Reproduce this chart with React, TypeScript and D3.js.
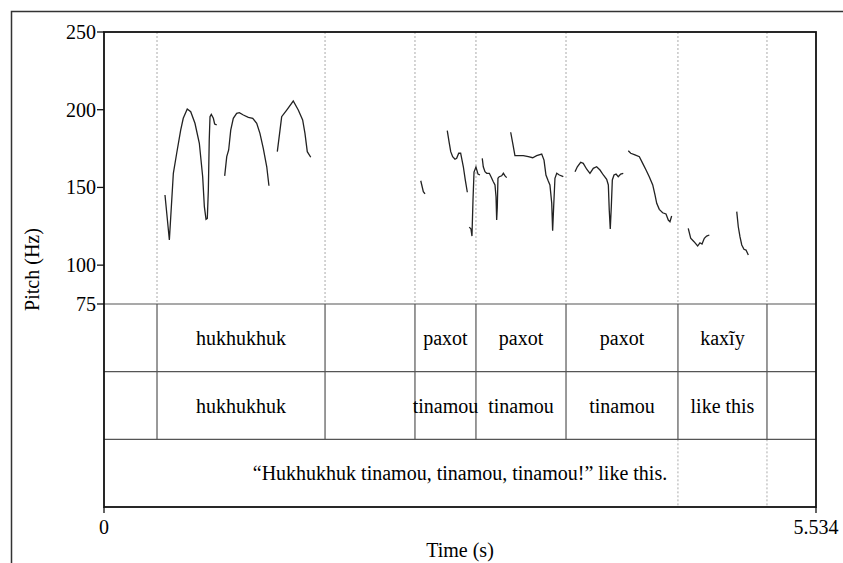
import * as d3 from 'd3';
import React from 'react';

// pitch contour pieces, [time (s), F0 (Hz)]
const huk1: [number, number][] = [
  [0.474, 145.1], [0.508, 116.2], [0.539, 159.1], [0.565, 172.0], [0.596, 186.9], [0.616, 194.5],
  [0.647, 200.5], [0.674, 198.7], [0.707, 191.3], [0.741, 178.4], [0.767, 156.9], [0.780, 137.6],
  [0.793, 129.5], [0.803, 130.1], [0.811, 148.3], [0.818, 180.5], [0.824, 195.5], [0.834, 197.0],
  [0.850, 194.5], [0.860, 190.8], [0.876, 190.2],
];
const huk2: [number, number][] = [
  [0.938, 157.4], [0.954, 169.8], [0.969, 174.1], [0.985, 186.9], [1.005, 194.5], [1.031, 197.7],
  [1.052, 198.1], [1.083, 196.6], [1.122, 195.1], [1.156, 194.5], [1.187, 191.3], [1.212, 184.8],
  [1.238, 175.2], [1.265, 163.3], [1.282, 151.1],
];
const huk3: [number, number][] = [
  [1.347, 173.0], [1.368, 186.9], [1.381, 195.5], [1.420, 199.8], [1.471, 205.6], [1.510, 199.8],
  [1.544, 193.4], [1.562, 184.8], [1.580, 173.0], [1.607, 169.4],
];
const pax0: [number, number][] = [[2.462, 154.3], [2.482, 147.3], [2.495, 145.8]];
const pax1: [number, number][] = [
  [2.668, 186.5], [2.684, 178.4], [2.695, 173.0], [2.710, 169.8], [2.728, 168.1], [2.741, 168.7],
  [2.757, 172.0], [2.772, 172.0], [2.793, 163.3], [2.808, 154.8], [2.824, 146.9],
];
const pax2: [number, number][] = [
  [2.839, 124.5], [2.852, 123.3], [2.860, 118.7], [2.868, 141.9], [2.876, 159.9], [2.891, 163.1],
  [2.907, 158.6], [2.922, 158.0],
];
const pax3: [number, number][] = [
  [2.940, 168.7], [2.948, 163.3], [2.961, 160.1], [2.975, 159.1], [2.995, 159.1], [3.008, 156.9],
  [3.026, 153.7], [3.039, 151.6], [3.047, 144.0], [3.052, 129.0], [3.057, 137.6], [3.062, 155.9],
  [3.072, 156.9], [3.091, 157.5], [3.104, 159.1], [3.117, 157.4], [3.130, 156.3],
];
const pax4: [number, number][] = [
  [3.161, 185.5], [3.177, 178.4], [3.194, 170.4], [3.220, 170.4], [3.259, 170.4], [3.298, 169.8],
  [3.332, 169.1], [3.363, 170.4], [3.402, 171.5], [3.420, 167.6], [3.435, 158.0], [3.453, 154.1],
  [3.466, 151.6], [3.480, 139.8], [3.487, 122.2], [3.495, 137.6], [3.505, 155.9], [3.519, 159.1],
  [3.539, 158.0], [3.570, 156.9],
];
const pax5: [number, number][] = [
  [3.661, 160.1], [3.679, 163.3], [3.705, 166.2], [3.725, 165.5], [3.752, 161.7], [3.777, 159.1],
  [3.803, 162.3], [3.829, 163.3], [3.855, 161.2], [3.881, 158.0], [3.907, 155.2], [3.920, 151.6],
  [3.927, 135.5], [3.935, 123.3], [3.943, 137.6], [3.951, 154.8], [3.964, 158.0], [3.980, 158.6],
  [3.997, 156.9], [4.016, 158.6], [4.036, 159.1],
];
const pax6: [number, number][] = [
  [4.075, 173.6], [4.094, 172.0], [4.127, 170.9], [4.161, 169.8], [4.187, 165.5], [4.213, 161.2],
  [4.238, 156.9], [4.265, 151.6], [4.283, 145.1], [4.296, 139.8], [4.316, 135.9], [4.342, 133.7],
  [4.368, 132.9], [4.386, 129.0], [4.399, 127.9], [4.412, 131.6],
];
const kax1: [number, number][] = [
  [4.541, 123.7], [4.560, 117.3], [4.586, 115.1], [4.614, 112.3], [4.632, 114.4], [4.648, 113.6],
  [4.666, 117.3], [4.684, 118.7], [4.705, 119.4],
];
const kax2: [number, number][] = [
  [4.918, 134.4], [4.930, 124.7], [4.943, 118.3], [4.957, 113.0], [4.974, 110.2], [4.990, 109.7],
  [5.008, 106.5],
];
const pitchPieces = [huk1, huk2, huk3, pax0, pax1, pax2, pax3, pax4, pax5, pax6, kax1, kax2];

const duration = 5.534;
const pitchTicks = [250, 200, 150, 100, 75];
const boundaries = [0.412, 1.718, 2.417, 2.891, 3.591, 4.461, 5.153];
const wordLabels = ['', 'hukhukhuk', '', 'paxot', 'paxot', 'paxot', 'kax\u0129y', ''];
const glossLabels = ['', 'hukhukhuk', '', 'tinamou', 'tinamou', 'tinamou', 'like this', ''];
const sentence = '\u201CHukhukhuk tinamou, tinamou, tinamou!\u201D like this.';
const sentenceDotted = [4.461, 5.153];

export default function App() {
  const left = 104, right = 816, top = 32, pitchBottom = 304, bottom = 507;
  const tierH = (bottom - pitchBottom) / 3;
  const x = d3.scaleLinear().domain([0, duration]).range([left, right]);
  const y = d3.scaleLinear().domain([75, 250]).range([pitchBottom, top]);
  const line = d3.line<[number, number]>().x(d => x(d[0])).y(d => y(d[1]));
  const edges = [0, ...boundaries, duration];
  const font = '"Liberation Serif", "Times New Roman", serif';
  const fs = 20;

  const tierText = (labels: string[], row: number) =>
    labels.map((lab, i) =>
      lab ? (
        <text key={row + '-' + i} x={(x(edges[i]) + x(edges[i + 1])) / 2}
          y={pitchBottom + tierH * row + tierH / 2} textAnchor="middle" dominantBaseline="central">
          {lab}
        </text>
      ) : null
    );

  return (
    <svg width={843} height={563} style={{ position: 'absolute', left: 0, top: 0, background: '#fff' }}
      fontFamily={font} fontSize={fs}>
      <rect width={843} height={563} fill="#fff" />
      {/* outer frame */}
      <path d="M11.5,563 V11.5 H843" fill="none" stroke="#333" strokeWidth={1.5} />

      {/* dotted boundary lines through pitch area */}
      {boundaries.map(b => (
        <line key={'dp' + b} x1={x(b)} x2={x(b)} y1={top} y2={pitchBottom}
          stroke="#aaa" strokeWidth={1} strokeDasharray="2,2" />
      ))}
      {sentenceDotted.map(b => (
        <line key={'ds' + b} x1={x(b)} x2={x(b)} y1={pitchBottom + 2 * tierH} y2={bottom}
          stroke="#aaa" strokeWidth={1} strokeDasharray="2,2" />
      ))}

      {/* tier lines */}
      {[0, 1, 2].map(r => (
        <line key={'h' + r} x1={left} x2={right} y1={pitchBottom + r * tierH} y2={pitchBottom + r * tierH}
          stroke="#555" strokeWidth={1.2} />
      ))}
      {boundaries.map(b => (
        <line key={'v' + b} x1={x(b)} x2={x(b)} y1={pitchBottom} y2={pitchBottom + 2 * tierH}
          stroke="#555" strokeWidth={1.2} />
      ))}

      {/* pitch */}
      {pitchPieces.map((p, i) => (
        <path key={'p' + i} d={line(p) || ''} fill="none" stroke="#222" strokeWidth={1.3} />
      ))}

      {/* frame */}
      <rect x={left} y={top} width={right - left} height={bottom - top} fill="none" stroke="#111" strokeWidth={1.8} />

      {/* y axis */}
      {pitchTicks.map(t => (
        <g key={'yt' + t}>
          <line x1={left - 7} x2={left} y1={y(t)} y2={y(t)} stroke="#111" strokeWidth={1.3} />
          <text x={left - 8} y={y(t)} textAnchor="end" dominantBaseline="central">{t}</text>
        </g>
      ))}
      <text transform={`translate(32,${(top + bottom) / 2}) rotate(-90)`} textAnchor="middle"
        dominantBaseline="central">Pitch (Hz)</text>

      {/* x axis */}
      {[0, duration].map(t => (
        <g key={'xt' + t}>
          <line x1={x(t)} x2={x(t)} y1={bottom} y2={bottom + 6} stroke="#111" strokeWidth={1.3} />
          <text x={x(t)} y={527} textAnchor="middle" dominantBaseline="central">{d3.format('')(t)}</text>
        </g>
      ))}
      <text x={(left + right) / 2} y={550} textAnchor="middle" dominantBaseline="central">Time (s)</text>

      {/* tiers */}
      {tierText(wordLabels, 0)}
      {tierText(glossLabels, 1)}
      <text x={(x(0) + x(duration)) / 2} y={pitchBottom + 2.5 * tierH} textAnchor="middle"
        dominantBaseline="central">{sentence}</text>
    </svg>
  );
}
